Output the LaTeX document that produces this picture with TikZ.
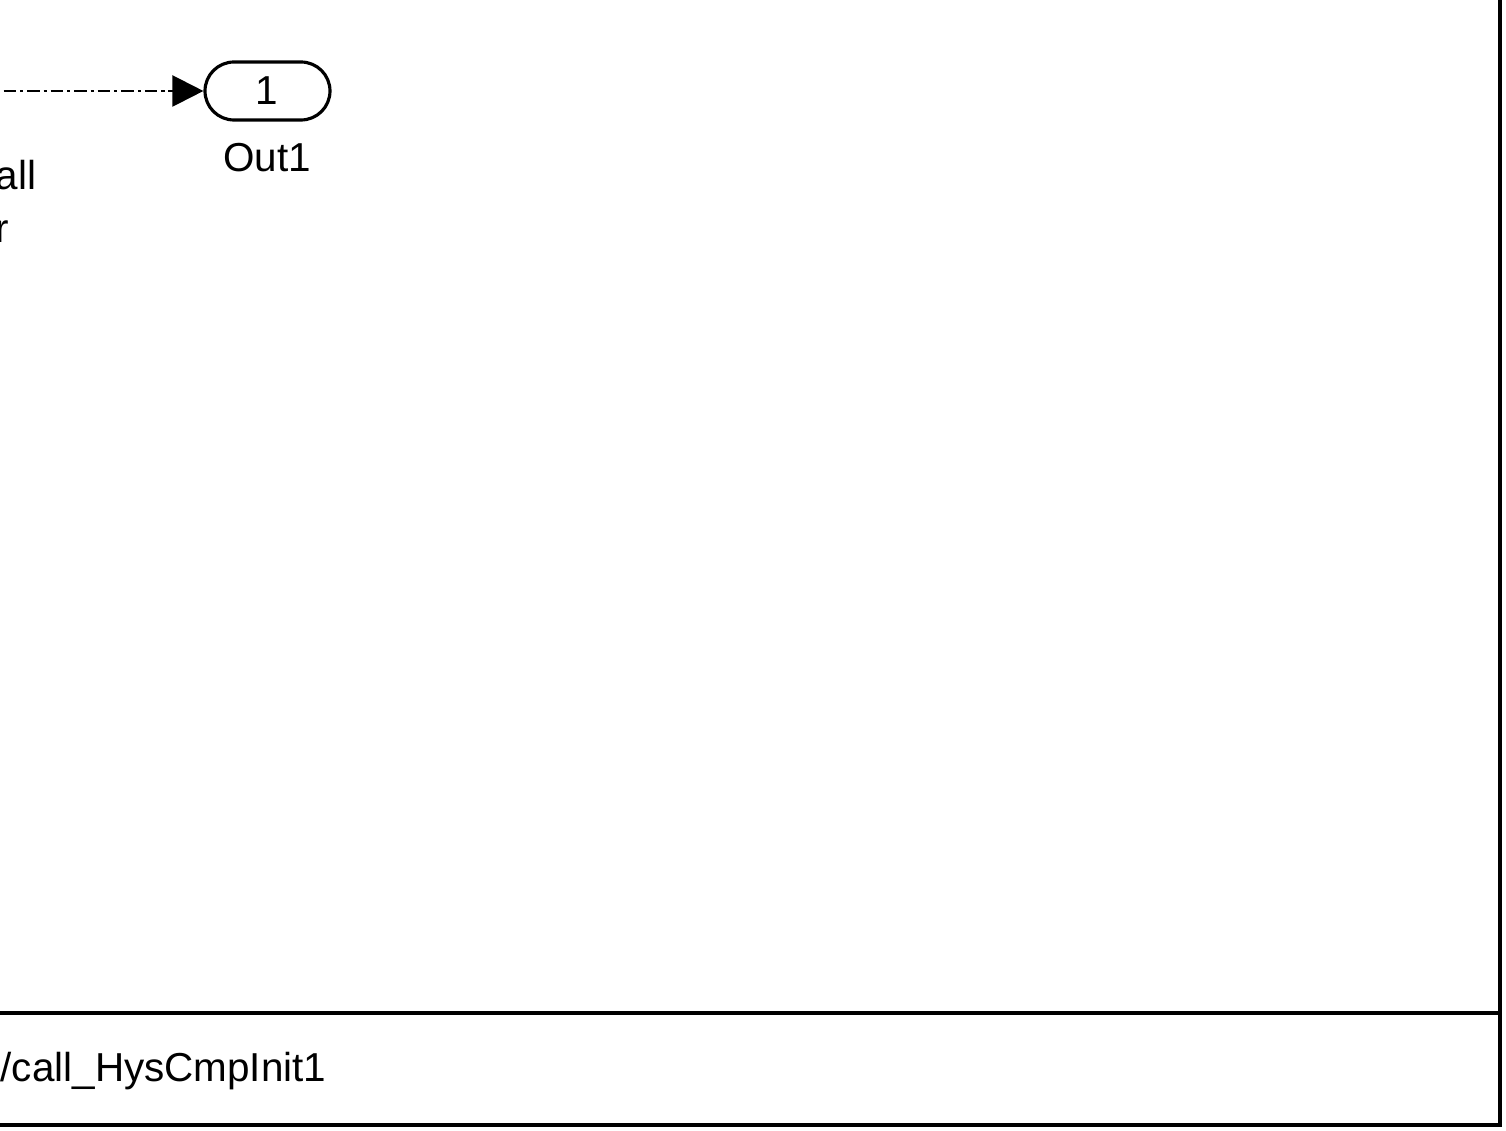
\documentclass[tikz,border=0pt]{standalone}
\usepackage{fontspec}
\setmainfont{Liberation Sans}
\usetikzlibrary{positioning,arrows.meta}

\begin{document}
\begin{tikzpicture}[every node/.style={inner sep=0pt},
  outport/.style={draw, line width=0.9pt, rounded corners=0.29cm, minimum width=1.25cm, minimum height=0.58cm},
  sig/.style={line width=0.65pt, dash pattern=on 3.6pt off 1.1pt on 0.9pt off 1.1pt, -{Triangle[length=0.31cm,width=0.31cm]}},
  frameline/.style={line width=0.9pt},
  blklabel/.style={font=\fontsize{11.5}{15}\selectfont}]
\useasboundingbox (0,0) rectangle (15.06,11.31);
% output port
\node[outport] (out1) at (2.675,10.40) {};
\node[blklabel, anchor=base] (one) at (2.67,10.26) {1};
\node[blklabel, anchor=base] (out1lbl) at (2.67,9.59) {Out1};
\coordinate (src) at (-0.2,10.40);
\draw[sig] (src) -- (out1.west);
% cut-off block name
\node[blklabel, anchor=base east] (nm1) at (0.37,9.41) {all};
\node[blklabel, anchor=base east] (nm2) at (0.10,8.88) {r};
% frame
\draw[frameline] (15.00,11.5) -- (15.00,0.06) -- (-0.2,0.06);
\draw[frameline] (-0.2,1.18) -- (15.00,1.18);
\node[blklabel, anchor=base west] (path) at (0,0.49) {/call\_HysCmpInit1};
\end{tikzpicture}
\end{document}
